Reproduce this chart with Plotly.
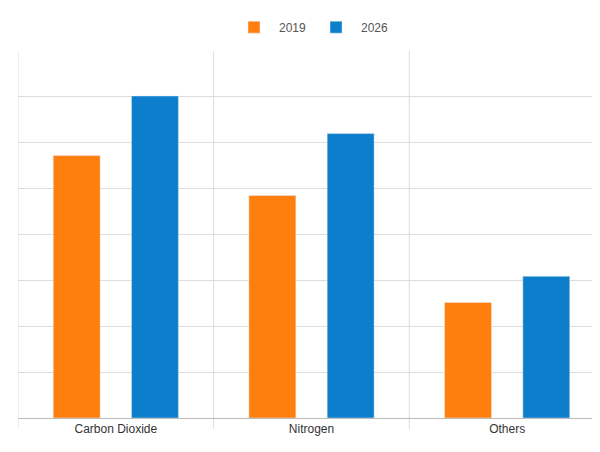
import plotly.graph_objects as go

categories = ["Carbon Dioxide", "Nitrogen", "Others"]
values_2019 = [5.72, 4.85, 2.52]
values_2026 = [7.02, 6.2, 3.09]

xs = list(range(len(categories)))
fig = go.Figure()
fig.add_bar(x=xs, y=values_2019, name="2019", marker_color="#ff7f0e")
fig.add_bar(x=xs, y=values_2026, name="2026", marker_color="#0d7ecb")

shapes = []
for b in [-0.5, 0.5, 1.5, 2.5]:
    shapes.append(dict(type="line", xref="x", yref="paper", x0=b, x1=b, y0=-0.03, y1=1,
                       line=dict(color="#dddddd", width=1), layer="below"))

fig.update_layout(
    width=600, height=452,
    margin=dict(l=10, r=3, t=43, b=42, autoexpand=False),
    plot_bgcolor="white", paper_bgcolor="white",
    barmode="group", bargap=0.2, bargroupgap=0.4,
    font=dict(family="Liberation Sans", size=12, color="#333"),
    legend=dict(orientation="h", x=0.5, xanchor="center", y=1.065, yanchor="middle",
                font=dict(size=12, color="#555"), itemwidth=40),
    shapes=shapes,
    xaxis=dict(tickvals=xs, ticktext=categories, range=[-0.5, 2.5], showgrid=False,
               showline=True, linecolor="#bbbbbb", ticks="", zeroline=False),
    yaxis=dict(range=[0, 8], dtick=1, showticklabels=False, gridcolor="#dddddd",
               zeroline=False, showline=False),
)
fig.write_html("out.html")
